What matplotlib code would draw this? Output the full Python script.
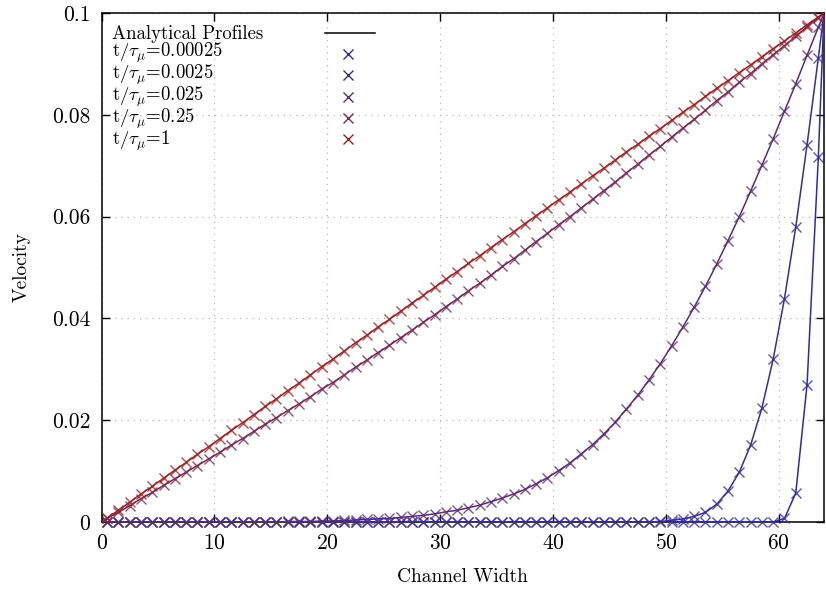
import numpy as np
import matplotlib
matplotlib.use('Agg')
import matplotlib.pyplot as plt

plt.rcParams['font.family'] = ['cmr10', 'DejaVu Serif']
plt.rcParams['mathtext.fontset'] = 'cm'
plt.rcParams['axes.unicode_minus'] = False
plt.rcParams['axes.formatter.use_mathtext'] = True

# lattice nodes across the channel (walls sit half a node outside)
width = np.arange(64) + 0.5
wall_lo, wall_hi = 0.0, 64.0
u_wall = 0.1

u_00025 = [0.0] * 60 + [0.0007, 0.0057, 0.0270, 0.0717]

u_0025 = [0.0] * 48 + [
    0.0000, 0.0001, 0.0003, 0.0006, 0.0011, 0.0019, 0.0035, 0.0061,
    0.0098, 0.0151, 0.0224, 0.0320, 0.0439, 0.0580, 0.0741, 0.0912]

u_025 = [0.0] * 16 + [
    0.0001, 0.0001, 0.0001, 0.0002, 0.0002, 0.0003, 0.0004, 0.0005,
    0.0006, 0.0007, 0.0009, 0.0011, 0.0013, 0.0016, 0.0020, 0.0023,
    0.0028, 0.0033, 0.0040, 0.0047, 0.0055, 0.0064, 0.0075, 0.0087,
    0.0101, 0.0116, 0.0134, 0.0152, 0.0173, 0.0196, 0.0222, 0.0249,
    0.0279, 0.0311, 0.0346, 0.0383, 0.0422, 0.0463, 0.0507, 0.0553,
    0.0600, 0.0650, 0.0701, 0.0753, 0.0807, 0.0861, 0.0917, 0.0972]

u_25 = [
    0.0007, 0.0019, 0.0032, 0.0046, 0.0058, 0.0072, 0.0085, 0.0098,
    0.0111, 0.0124, 0.0137, 0.0151, 0.0164, 0.0178, 0.0192, 0.0205,
    0.0219, 0.0232, 0.0246, 0.0261, 0.0274, 0.0289, 0.0304, 0.0318,
    0.0333, 0.0347, 0.0362, 0.0377, 0.0392, 0.0407, 0.0423, 0.0438,
    0.0454, 0.0469, 0.0485, 0.0502, 0.0517, 0.0534, 0.0551, 0.0567,
    0.0584, 0.0600, 0.0617, 0.0634, 0.0651, 0.0668, 0.0686, 0.0703,
    0.0721, 0.0738, 0.0756, 0.0774, 0.0791, 0.0809, 0.0828, 0.0845,
    0.0864, 0.0881, 0.0900, 0.0918, 0.0936, 0.0954, 0.0973, 0.0991]

u_1 = [
    0.0008, 0.0023, 0.0039, 0.0055, 0.0070, 0.0086, 0.0102, 0.0117,
    0.0133, 0.0148, 0.0164, 0.0180, 0.0195, 0.0211, 0.0227, 0.0242,
    0.0258, 0.0273, 0.0289, 0.0305, 0.0320, 0.0336, 0.0352, 0.0367,
    0.0383, 0.0398, 0.0414, 0.0430, 0.0445, 0.0461, 0.0477, 0.0492,
    0.0508, 0.0523, 0.0539, 0.0555, 0.0570, 0.0586, 0.0602, 0.0617,
    0.0633, 0.0648, 0.0664, 0.0680, 0.0695, 0.0711, 0.0727, 0.0742,
    0.0758, 0.0773, 0.0789, 0.0805, 0.0820, 0.0836, 0.0852, 0.0867,
    0.0883, 0.0898, 0.0914, 0.0930, 0.0945, 0.0961, 0.0977, 0.0992]

times = ['0.00025', '0.0025', '0.025', '0.25', '1']
profiles = [u_00025, u_0025, u_025, u_25, u_1]
colors = ['#2a2ab4', '#3c2a96', '#5c2a7a', '#7c2650', '#a41e1e']

xticks = [0, 10, 20, 30, 40, 50, 60]
yticks = [0, 0.02, 0.04, 0.06, 0.08, 0.1]
ytick_labels = ['0', '0.02', '0.04', '0.06', '0.08', '0.1']

fig = plt.figure(figsize=(8.26, 5.93), dpi=100)
ax = fig.add_axes([101.5/826, 1-522/593, 722.5/826, 509/593])

for u, c in zip(profiles, colors):
    xs = np.concatenate([[wall_lo], width, [wall_hi]])
    ys = np.concatenate([[0.0], u, [u_wall]])
    ax.plot(xs, ys, '-', color=c, lw=1.1, zorder=3)
    ax.plot(width, u, 'x', color=c, ms=6.5, mew=1.0, alpha=0.8, zorder=4, clip_on=False)

ax.set_xlim(wall_lo, wall_hi)
ax.set_ylim(0, 0.1)
ax.set_xticks(xticks)
ax.set_yticks(yticks)
ax.set_yticklabels(ytick_labels)
ax.grid(True, linestyle=(0, (1, 4)), color='#b8b8b8', lw=0.9)
ax.tick_params(direction='in', top=True, right=True, length=6, width=1,
               labelsize=15.5, pad=8)
for s in ax.spines.values():
    s.set_linewidth(1.1)

ax.set_xlabel('Channel Width', fontsize=14, va='center')
ax.xaxis.set_label_coords(0.5, -(577-522)/509)
ax.set_ylabel('Velocity', fontsize=14, va='center')
ax.yaxis.set_label_coords(-(101.5-22)/722.5, 0.5)

# legend drawn by hand, gnuplot style (text block left, samples right)
row0 = 1 - (33-13)/509
dy = 21.2/509
tx = (112-101.5)/722.5
legend_lines = ['Analytical Profiles'] + [r'$\mathrm{t}/\tau_{\mu}$=' + t for t in times]
ax.text(tx, 1 - (25-13)/509, '\n'.join(legend_lines), transform=ax.transAxes,
        fontsize=13.5, va='top', ha='left', linespacing=0.85)
ax.plot([(325-101.5)/722.5, (375-101.5)/722.5], [row0, row0], color='black',
        lw=1.1, transform=ax.transAxes, clip_on=False)
for k, c in enumerate(colors):
    y = row0 - (k+1)*dy
    ax.plot([(348-101.5)/722.5], [y], 'x', color=c, ms=6.5, mew=1.0,
            transform=ax.transAxes, clip_on=False)

fig.savefig('out.png', dpi=100)
